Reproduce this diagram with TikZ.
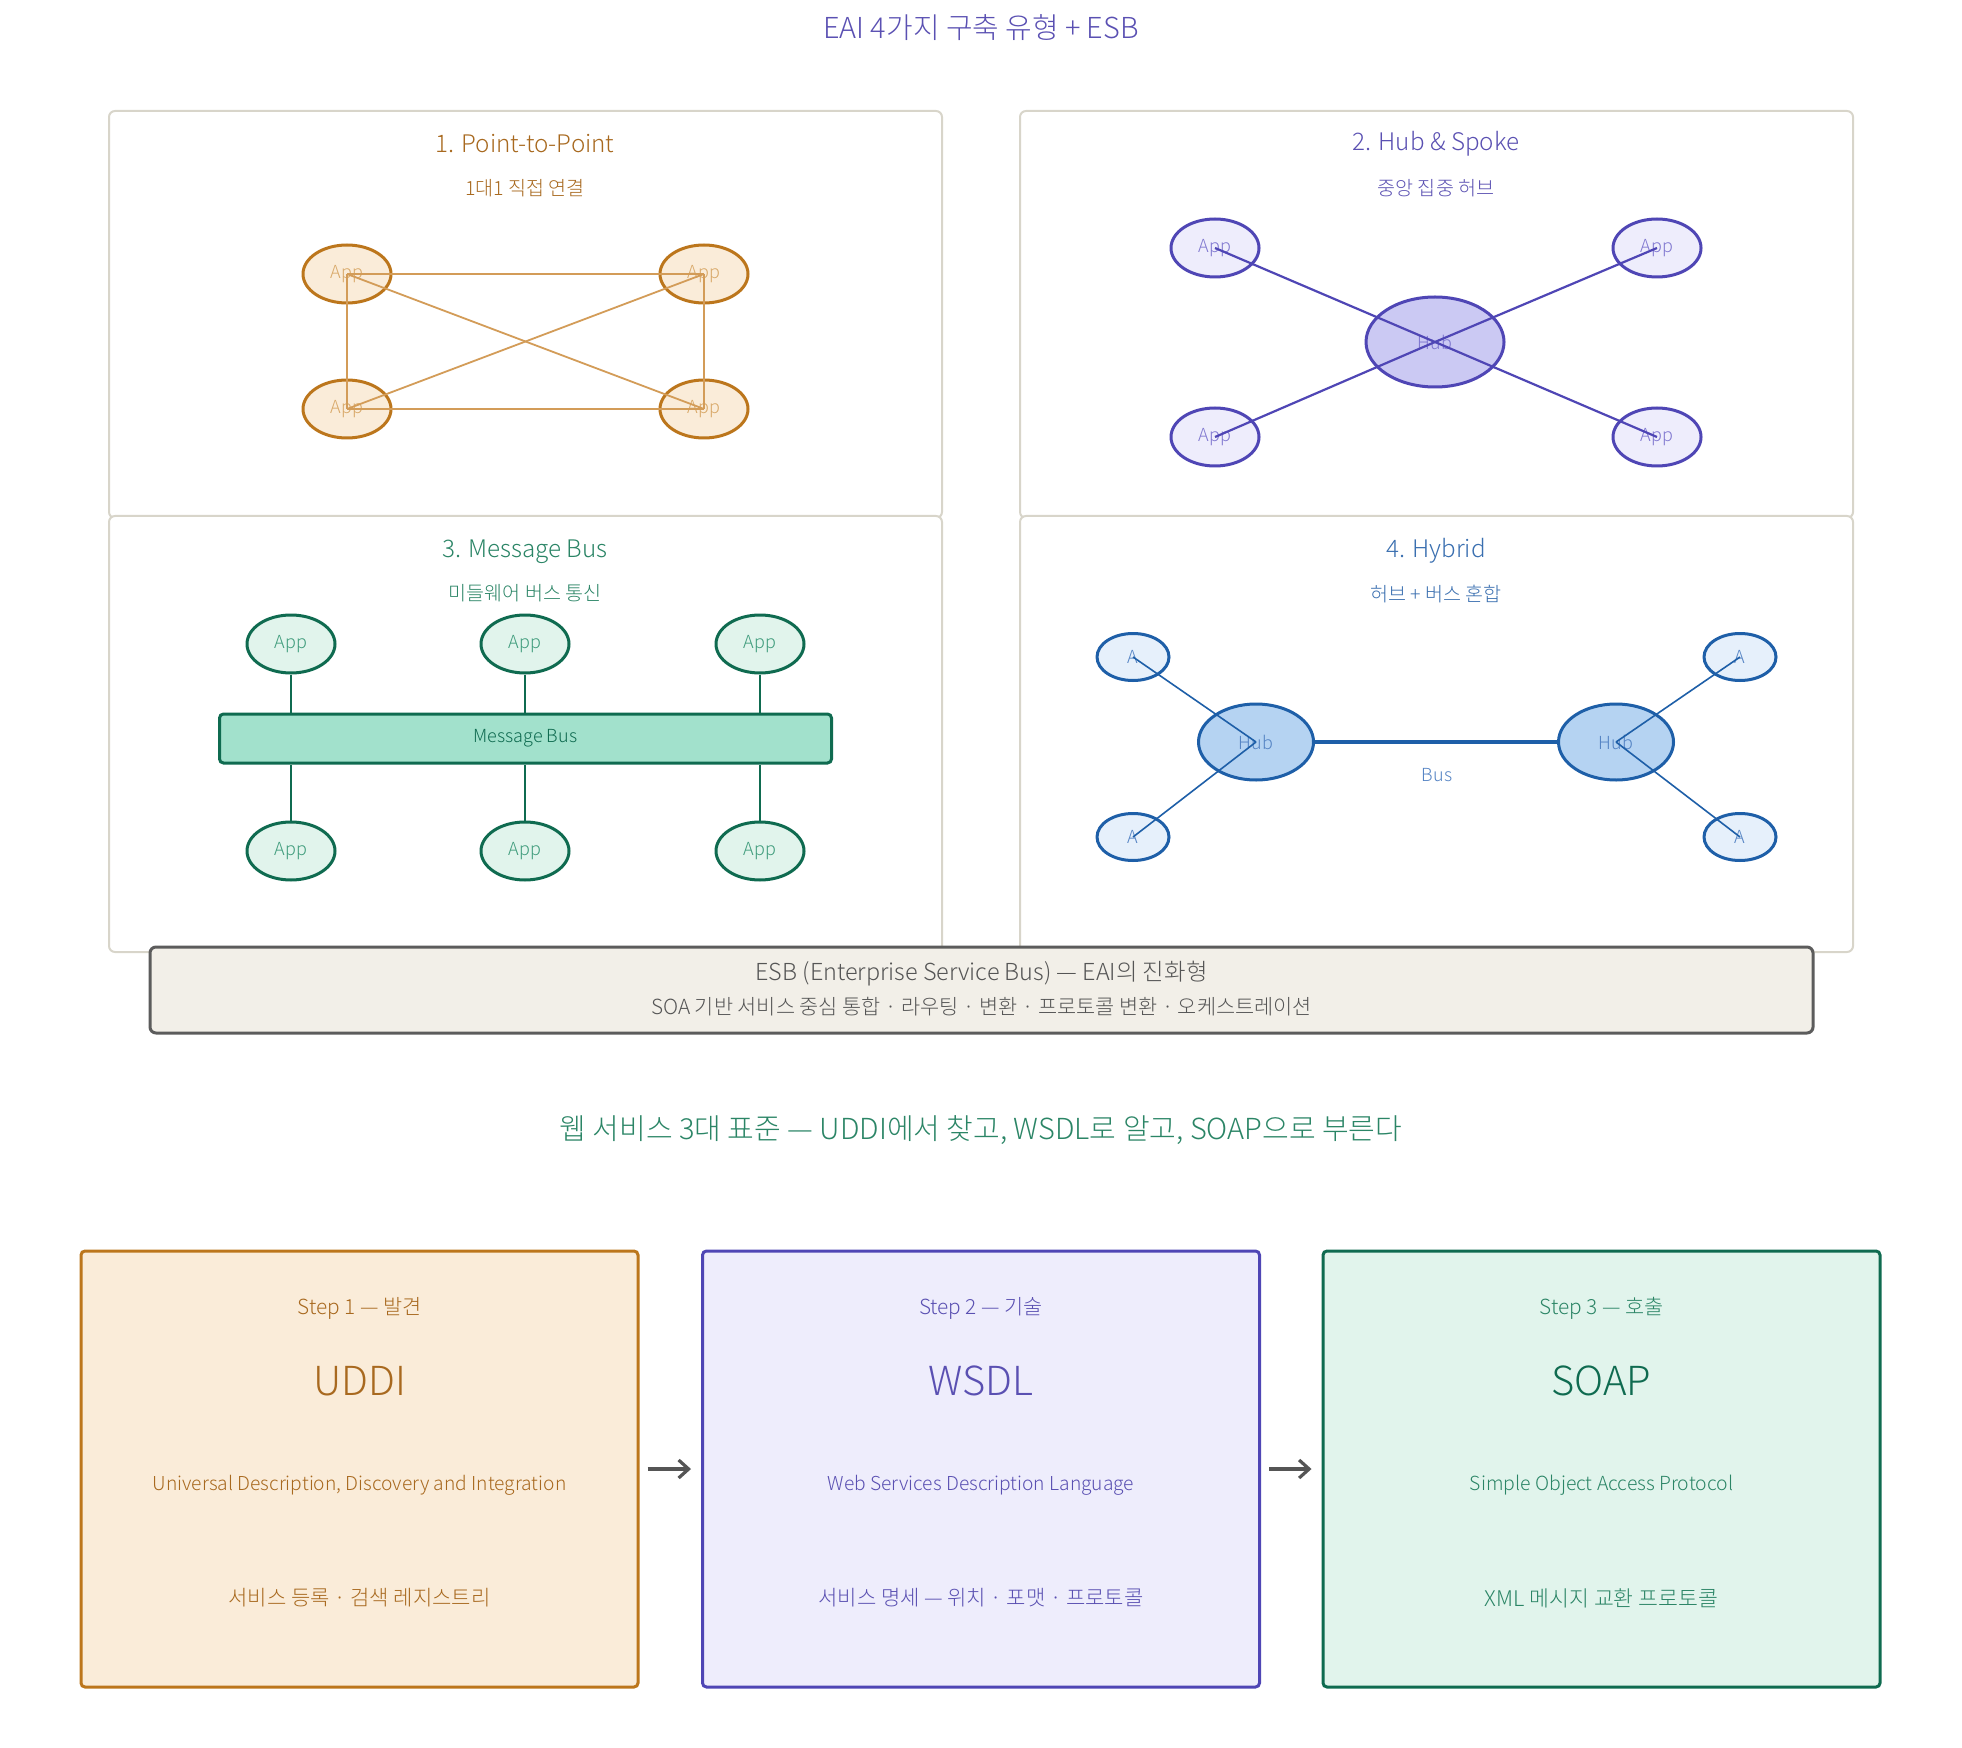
\documentclass[tikz,border=0pt]{standalone}
\usepackage{fontspec}
\IfFontExistsTF{Noto Sans CJK KR Light}{\setmainfont{Noto Sans CJK KR Light}}{\setmainfont{Noto Sans CJK KR}}
\usetikzlibrary{arrows.meta,shapes.geometric}
\definecolor{brS}{HTML}{BC761C}
\definecolor{brF}{HTML}{FAECD9}
\definecolor{brT}{HTML}{A8691F}
\definecolor{brL}{HTML}{D39C58}
\definecolor{brA}{HTML}{D8A868}
\definecolor{puS}{HTML}{4F46B5}
\definecolor{puF}{HTML}{EEEDFC}
\definecolor{puH}{HTML}{CBC9F3}
\definecolor{puT}{HTML}{5A50B2}
\definecolor{puA}{HTML}{8078D0}
\definecolor{grS}{HTML}{0F6B50}
\definecolor{grF}{HTML}{E1F4EC}
\definecolor{grB}{HTML}{A2E1CC}
\definecolor{grT}{HTML}{2B8566}
\definecolor{grA}{HTML}{3F9C7C}
\definecolor{blS}{HTML}{1E5FA8}
\definecolor{blF}{HTML}{E6F0FB}
\definecolor{blH}{HTML}{B5D3F2}
\definecolor{blT}{HTML}{3A6FB0}
\definecolor{blA}{HTML}{5584C4}
\definecolor{pnl}{HTML}{D8D5CA}
\definecolor{esbF}{HTML}{F2EFE8}
\definecolor{esbS}{HTML}{5C5C5C}
\definecolor{esbT}{HTML}{555555}
\definecolor{arrC}{HTML}{555555}
\newcommand{\fsz}[1]{\fontsize{#1pt}{#1pt}\selectfont}
\begin{document}
\begin{tikzpicture}[x=0.5pt,y=-0.5pt,
  panel/.style={draw=pnl, line width=1pt, fill=white, rounded corners=3pt},
  ptitle/.style={font=\fsz{12.1}},
  psub/.style={font=\fsz{9.8}},
  appE/.style={ellipse, inner sep=0pt, minimum width=44pt, minimum height=29pt, line width=1.5pt, font=\fsz{9}},
  hubE/.style={ellipse, inner sep=0pt, line width=1.5pt, font=\fsz{9}},
  stepbox/.style={rectangle, rounded corners=2pt, line width=1.5pt, minimum width=278.5pt, minimum height=218pt},
  arr/.style={draw=arrC, line width=1.6pt, -{Straight Barb[length=5pt,width=9pt]}, shorten <=4pt, shorten >=5pt}
]
\useasboundingbox (0,0) rectangle (1962,1748);
% title
\node[font=\fsz{14.45}, text=puT] (title) at (981,28) {EAI 4가지 구축 유형 + ESB};

% panels
\draw[panel] (109,111) rectangle (942,518);
\draw[panel] (1020,111) rectangle (1853,518);
\draw[panel] (109,516) rectangle (942,952);
\draw[panel] (1020,516) rectangle (1853,952);

% ---- Panel 1
\node[ptitle, text=brT] (p1t) at (525,144) {1. Point-to-Point};
\node[psub, text=brT] (p1s) at (525,188) {1대1 직접 연결};
\node[appE, draw=brS, fill=brF, text=brA] (a1) at (347,274) {App};
\node[appE, draw=brS, fill=brF, text=brA] (a2) at (704,274) {App};
\node[appE, draw=brS, fill=brF, text=brA] (a3) at (347,409) {App};
\node[appE, draw=brS, fill=brF, text=brA] (a4) at (704,409) {App};
\begin{scope}[draw=brL, line width=0.9pt]
\draw (a1.center) -- (a2.center);
\draw (a3.center) -- (a4.center);
\draw (a1.center) -- (a3.center);
\draw (a2.center) -- (a4.center);
\draw (a1.center) -- (a4.center);
\draw (a3.center) -- (a2.center);
\end{scope}

% ---- Panel 2
\node[ptitle, text=puT] (p2t) at (1436,144) {2. Hub \& Spoke};
\node[psub, text=puT] (p2s) at (1436,188) {중앙 집중 허브};
\node[appE, draw=puS, fill=puF, text=puA] (b1) at (1215,248) {App};
\node[appE, draw=puS, fill=puF, text=puA] (b2) at (1657,248) {App};
\node[appE, draw=puS, fill=puF, text=puA] (b3) at (1215,437) {App};
\node[appE, draw=puS, fill=puF, text=puA] (b4) at (1657,437) {App};
\node[hubE, draw=puS, fill=puH, text=puA, minimum width=69pt, minimum height=45pt] (hub) at (1435,342) {Hub};
\begin{scope}[draw=puS, line width=1.1pt]
\draw (b1.center) -- (hub.center);
\draw (b2.center) -- (hub.center);
\draw (b3.center) -- (hub.center);
\draw (b4.center) -- (hub.center);
\end{scope}

% ---- Panel 3
\node[ptitle, text=grT] (p3t) at (525,552) {3. Message Bus};
\node[psub, text=grT] (p3s) at (525,593) {미들웨어 버스 통신};
\node[draw=grS, fill=grB, line width=1.5pt, rounded corners=2pt, minimum width=306pt, minimum height=24.5pt, inner sep=0pt, text=grS, font=\fsz{9}] (bus) at (525.5,738.5) {Message Bus};
\foreach \i/\xx in {1/291,2/525,3/760}{
  \node[appE, draw=grS, fill=grF, text=grA] (c\i) at (\xx,644) {App};
  \node[appE, draw=grS, fill=grF, text=grA] (d\i) at (\xx,851) {App};
  \draw[draw=grS, line width=1pt] (c\i.south) -- (c\i.south |- bus.north);
  \draw[draw=grS, line width=1pt] (d\i.north) -- (d\i.north |- bus.south);
}

% ---- Panel 4
\node[ptitle, text=blT] (p4t) at (1436,551) {4. Hybrid};
\node[psub, text=blT] (p4s) at (1436,594) {허브 + 버스 혼합};
\node[hubE, draw=blS, fill=blH, text=blA, minimum width=57.5pt, minimum height=38pt] (h1) at (1256,742) {Hub};
\node[hubE, draw=blS, fill=blH, text=blA, minimum width=57.5pt, minimum height=38pt] (h2) at (1616,742) {Hub};
\node[appE, draw=blS, fill=blF, text=blA, minimum width=36pt, minimum height=23.5pt] (e1) at (1133,657) {A};
\node[appE, draw=blS, fill=blF, text=blA, minimum width=36pt, minimum height=23.5pt] (e2) at (1133,837) {A};
\node[appE, draw=blS, fill=blF, text=blA, minimum width=36pt, minimum height=23.5pt] (e3) at (1740,657) {A};
\node[appE, draw=blS, fill=blF, text=blA, minimum width=36pt, minimum height=23.5pt] (e4) at (1740,837) {A};
\begin{scope}[draw=blS, line width=0.8pt]
\draw (e1.center) -- (h1.center);
\draw (e2.center) -- (h1.center);
\draw (e3.center) -- (h2.center);
\draw (e4.center) -- (h2.center);
\end{scope}
\draw[draw=blS, line width=2.2pt] (h1.east) -- (h2.west);
\node[font=\fsz{9}, text=blA] (buslbl) at (1437,775) {Bus};

% ---- ESB
\node[draw=esbS, fill=esbF, line width=1.5pt, rounded corners=3pt, minimum width=831.5pt, minimum height=43pt] (esb) at (981.5,990) {};
\node[font=\fsz{11.7}, text=esbT] (esb1) at (981.5,974) {ESB (Enterprise Service Bus) — EAI의 진화형};
\node[font=\fsz{10.4}, text=esbT] (esb2) at (981.5,1007) {SOA 기반 서비스 중심 통합 · 라우팅 · 변환 · 프로토콜 변환 · 오케스트레이션};

% ---- Web services
\node[font=\fsz{14.5}, text=grT] (sub) at (981,1130) {웹 서비스 3대 표준 — UDDI에서 찾고, WSDL로 알고, SOAP으로 부른다};

\node[stepbox, draw=brS, fill=brF] (s1) at (359.5,1469) {};
\node[stepbox, draw=puS, fill=puF] (s2) at (981,1469) {};
\node[stepbox, draw=grS, fill=grF] (s3) at (1601.5,1469) {};
\draw[arr] (s1) -- (s2);
\draw[arr] (s2) -- (s3);

\node[font=\fsz{10.4}, text=brT] (s1a) at (359.5,1308) {Step 1 — 발견};
\node[font=\fsz{20}, text=brT] (s1b) at (359.5,1381) {UDDI};
\node[font=\fsz{9.6}, text=brT] (s1c) at (359.5,1485) {Universal Description, Discovery and Integration};
\node[font=\fsz{10.5}, text=brT] (s1d) at (359.5,1598) {서비스 등록 · 검색 레지스트리};

\node[font=\fsz{10.4}, text=puT] (s2a) at (981,1308) {Step 2 — 기술};
\node[font=\fsz{20}, text=puT] (s2b) at (981,1381) {WSDL};
\node[font=\fsz{9.6}, text=puT] (s2c) at (981,1485) {Web Services Description Language};
\node[font=\fsz{10.5}, text=puT] (s2d) at (981,1598) {서비스 명세 — 위치 · 포맷 · 프로토콜};

\node[font=\fsz{10.4}, text=grT] (s3a) at (1601.5,1308) {Step 3 — 호출};
\node[font=\fsz{20}, text=grS] (s3b) at (1601.5,1381) {SOAP};
\node[font=\fsz{9.7}, text=grT] (s3c) at (1601.5,1485) {Simple Object Access Protocol};
\node[font=\fsz{10.8}, text=grT] (s3d) at (1601.5,1598) {XML 메시지 교환 프로토콜};
\end{tikzpicture}
\end{document}
